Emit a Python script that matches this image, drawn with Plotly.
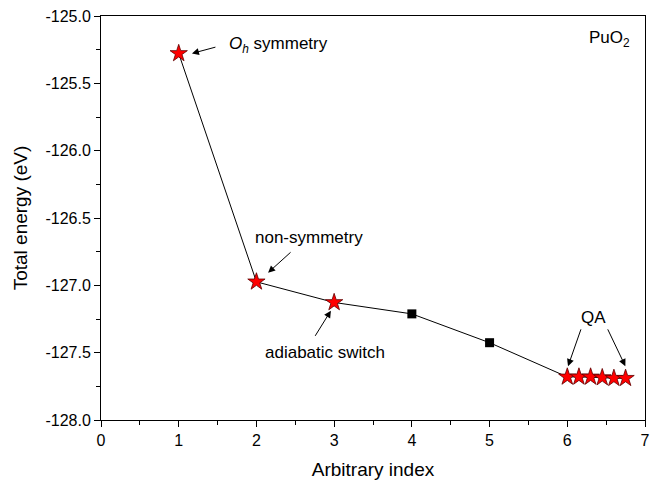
import plotly.graph_objects as go

# Data
main_x = [1, 2, 3, 4, 5, 6]
main_y = [-125.278, -126.974, -127.127, -127.212, -127.426, -127.68]
star_x = [1, 2, 3]
star_y = [-125.278, -126.974, -127.127]
square_x = [4, 5]
square_y = [-127.212, -127.426]
qa_x = [6.0, 6.15, 6.3, 6.45, 6.6, 6.75]
qa_y = [-127.68, -127.68, -127.68, -127.685, -127.69, -127.69]

FONT = "Liberation Sans, Arial, sans-serif"

fig = go.Figure()
fig.add_trace(go.Scatter(x=main_x + qa_x[1:], y=main_y + qa_y[1:], mode="lines",
                         line=dict(color="black", width=1), showlegend=False))
fig.add_trace(go.Scatter(x=square_x, y=square_y, mode="markers",
                         marker=dict(symbol="square", size=9, color="black"), showlegend=False))
fig.add_trace(go.Scatter(x=star_x + qa_x, y=star_y + qa_y, mode="markers",
                         marker=dict(symbol="star", size=13, color="#ff0000",
                                     line=dict(color="#600000", width=0.8)), showlegend=False))

def arrow(x, y, ax, ay):
    fig.add_annotation(x=x, y=y, ax=ax, ay=ay, xref="x", yref="y", text="",
                       showarrow=True, arrowhead=2, arrowsize=1.4, arrowwidth=1,
                       arrowcolor="black", standoff=0)

def label(x, y, text, xanchor="center"):
    fig.add_annotation(x=x, y=y, xref="x", yref="y", text=text, showarrow=False,
                       xanchor=xanchor, yanchor="middle",
                       font=dict(family=FONT, size=17, color="black"))

arrow(1.17, -125.278, 25, -6.7)
arrow(2.15, -126.906, 24, -21.7)
arrow(2.958, -127.188, -16.6, 26.7)
arrow(6.01, -127.60, 13.4, -38.3)
arrow(6.747, -127.60, -18.3, -38.3)

label(1.617, -125.215, "<i>O</i><sub><i>h</i></sub> symmetry", xanchor="left")
label(2.682, -126.647, "non-symmetry")
label(2.884, -127.496, "adiabatic switch")
label(6.342, -127.237, "QA")
label(6.833, -125.17, "PuO<sub>2</sub>", xanchor="right")

axis_common = dict(showgrid=False, zeroline=False, showline=True, linecolor="black",
                   linewidth=1, mirror=True, ticks="outside", ticklen=6, tickwidth=1,
                   tickcolor="black", tickfont=dict(family=FONT, size=16, color="black"))

fig.update_xaxes(range=[0, 7], tickmode="array", tickvals=list(range(8)),
                 ticktext=[str(i) for i in range(8)],
                 minor=dict(ticks="outside", ticklen=4, tickcolor="black", dtick=0.5, tick0=0),
                 title=dict(text="Arbitrary index", font=dict(family=FONT, size=19, color="black"),
                            standoff=14),
                 **axis_common)
yt = [-125.0, -125.5, -126.0, -126.5, -127.0, -127.5, -128.0]
fig.update_yaxes(range=[-128.0, -125.0], tickmode="array", tickvals=yt,
                 ticktext=[f"{v:.1f}" for v in yt],
                 minor=dict(ticks="outside", ticklen=4, tickcolor="black", dtick=0.25, tick0=-128),
                 title=dict(text="Total energy (eV)", font=dict(family=FONT, size=19, color="black"),
                            standoff=12),
                 **axis_common)

fig.update_layout(width=658, height=485, margin=dict(l=101, r=8, t=13, b=65),
                  plot_bgcolor="white", paper_bgcolor="white", showlegend=False)

fig.write_html("out.html")
